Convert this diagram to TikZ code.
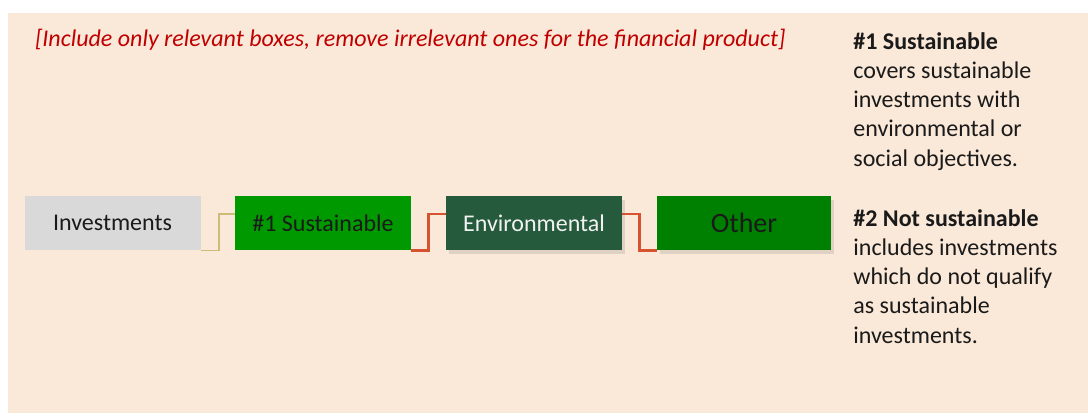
\documentclass[tikz,border=0pt]{standalone}
\usepackage{fontspec}
\setmainfont{Carlito}
\usetikzlibrary{positioning, calc, shadows}
\definecolor{sfpeach}{HTML}{FAE8D8}
\definecolor{sfgray}{HTML}{D9D9D9}
\definecolor{sfgreen}{HTML}{009900}
\definecolor{sfdark}{HTML}{265A3C}
\definecolor{sfother}{HTML}{008000}
\definecolor{sfred}{HTML}{C00000}
\definecolor{sfline}{HTML}{D5532E}
\definecolor{sftan}{HTML}{CDBC78}
\definecolor{sfink}{HTML}{1A1A1A}

\begin{document}
\begin{tikzpicture}[
  x=0.5pt, y=-0.5pt,
  every node/.style={font=\fontsize{12}{14.6}\selectfont, text=sfink},
  catbox/.style={rectangle, minimum width=88pt, minimum height=27pt, inner sep=0pt, align=center},
  shadowbox/.style={catbox, drop shadow={opacity=0.22, shadow xshift=1.5pt, shadow yshift=-2pt}},
  tanlink/.style={draw=sftan, line width=0.8pt},
  redlink/.style={draw=sfline, line width=1.2pt},
]
\useasboundingbox (0,0) rectangle (1088,416);
\fill[sfpeach] (8,13) rectangle (1088,413);
\node[anchor=west, text=sfred, font=\fontsize{12}{14.6}\selectfont\itshape] (note) at (28,40) {[Include only relevant boxes, remove irrelevant ones for the financial product]};

\node[catbox, fill=sfgray] (inv) at (112.5,223) {Investments};
\node[catbox, fill=sfgreen] (sus) at (323,223) {\#1 Sustainable};
\node[shadowbox, fill=sfdark, text=white!95!black] (env) at (534,223) {Environmental};
\node[shadowbox, fill=sfother, minimum width=87pt, font=\fontsize{14}{16}\selectfont] (oth) at (744,223) {Other};

\draw[tanlink] (inv.south east) -- ++(18,0) |- ([yshift=4.5pt]sus.west);
\draw[redlink] (sus.south east) -- ++(17,0) |- ([yshift=4.5pt]env.west);
\draw[redlink] ([yshift=4.5pt]env.east) -- ++(17,0) |- (oth.south west);

\node[anchor=north west, inner sep=0pt, align=left] (def1) at (853,32) {\textbf{\#1 Sustainable}\\covers sustainable\\investments with\\environmental or\\social objectives.};
\node[anchor=north west, inner sep=0pt, align=left] (def2) at (853,209) {\textbf{\#2 Not sustainable}\\includes investments\\which do not qualify\\as sustainable\\investments.};
\end{tikzpicture}
\end{document}
